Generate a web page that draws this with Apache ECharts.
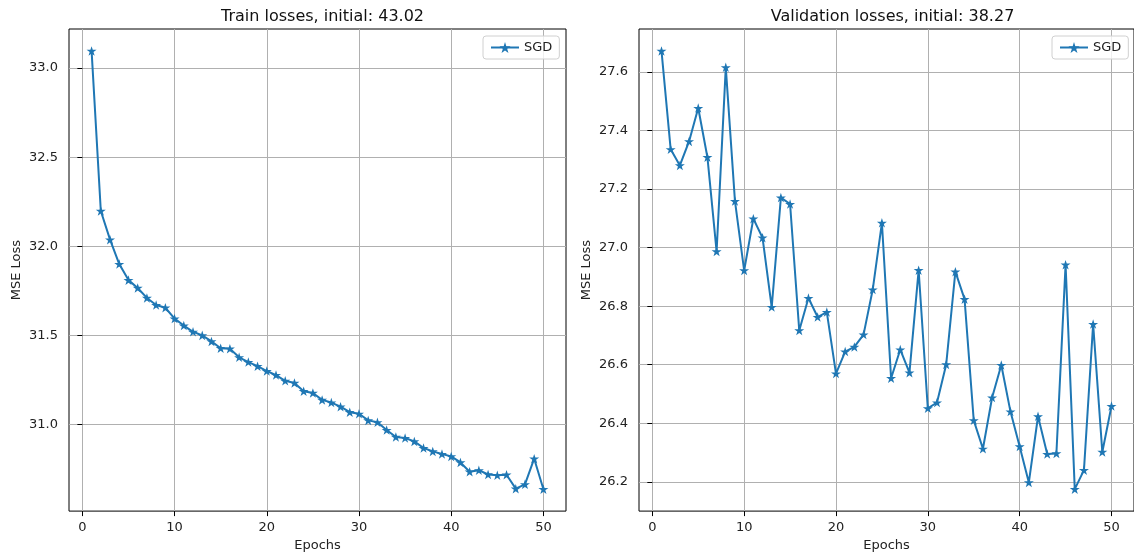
<!DOCTYPE html>
<html>
<head>
<meta charset="utf-8">
<title>Train / Validation losses</title>
<script src="https://cdn.jsdelivr.net/npm/echarts@6/dist/echarts.min.js"></script>
<style>
  html, body { margin: 0; padding: 0; background: #fff; }
  #chart { width: 1134px; height: 557px; }
</style>
</head>
<body>
<div id="chart"></div>
<script>
// data
const epochs = [1, 2, 3, 4, 5, 6, 7, 8, 9, 10, 11, 12, 13, 14, 15, 16, 17, 18, 19, 20,
  21, 22, 23, 24, 25, 26, 27, 28, 29, 30, 31, 32, 33, 34, 35, 36, 37, 38, 39, 40,
  41, 42, 43, 44, 45, 46, 47, 48, 49, 50]

const trainLoss = [33.096, 32.198, 32.037, 31.900, 31.810, 31.766, 31.710, 31.670, 31.655, 31.594,
  31.555, 31.520, 31.500, 31.466, 31.428, 31.425, 31.377, 31.350, 31.327, 31.300,
  31.277, 31.245, 31.233, 31.187, 31.177, 31.138, 31.123, 31.100, 31.069, 31.060,
  31.023, 31.012, 30.969, 30.930, 30.924, 30.905, 30.868, 30.849, 30.834, 30.821,
  30.787, 30.735, 30.743, 30.720, 30.715, 30.718, 30.640, 30.664, 30.808, 30.637]

const valLoss = [27.672, 27.336, 27.281, 27.363, 27.477, 27.309, 26.987, 27.616, 27.159, 26.922,
  27.099, 27.034, 26.797, 27.171, 27.149, 26.717, 26.828, 26.763, 26.780, 26.570,
  26.645, 26.661, 26.703, 26.857, 27.085, 26.554, 26.652, 26.573, 26.923, 26.451,
  26.471, 26.601, 26.918, 26.824, 26.410, 26.313, 26.488, 26.599, 26.440, 26.321,
  26.198, 26.424, 26.295, 26.297, 26.942, 26.175, 26.240, 26.739, 26.302, 26.459]

const xTicks = [0, 10, 20, 30, 40, 50]
const trainTicks = [31.0, 31.5, 32.0, 32.5, 33.0]
const valTicks = [26.2, 26.4, 26.6, 26.8, 27.0, 27.2, 27.4, 27.6]

const titles = ['Train losses, initial: 43.02', 'Validation losses, initial: 38.27']

const FONT = 'DejaVu Sans'
const BLUE = '#1f77b4'
const STAR = 'path://M0,-1L0.2245,-0.309L0.951,-0.309L0.363,0.118L0.588,0.809L0,0.382L-0.588,0.809L-0.363,0.118L-0.951,-0.309L-0.2245,-0.309Z'

// matplotlib-ish axes boxes (pixels); the right one runs just past the canvas edge
const boxes = [
  { left: 69, top: 29, width: 497, height: 486 },
  { left: 639, top: 29, width: 497, height: 486 }
]

const makeXAxis = (gridIndex) => ({
  type: 'value',
  gridIndex,
  min: -1.45,
  max: 52.45,
  name: 'Epochs',
  nameLocation: 'middle',
  nameGap: 26,
  nameTextStyle: { fontFamily: FONT, fontSize: 13, color: '#222' },
  axisLine: { show: false },
  axisTick: { show: true, length: 5, lineStyle: { color: '#000' }, customValues: xTicks },
  axisLabel: {
    margin: 10,
    fontFamily: FONT,
    fontSize: 13,
    color: '#222',
    customValues: xTicks
  },
  splitLine: { show: true, lineStyle: { color: '#b0b0b0', width: 1 } }
})

const makeYAxis = (gridIndex, min, max, ticks) => ({
  type: 'value',
  gridIndex,
  min,
  max,
  name: 'MSE Loss',
  nameLocation: 'middle',
  nameGap: 46,
  nameRotate: 90,
  nameTextStyle: { fontFamily: FONT, fontSize: 13, color: '#222' },
  axisLine: { show: false },
  axisTick: { show: true, length: 5, lineStyle: { color: '#000' }, customValues: ticks },
  axisLabel: {
    margin: 11,
    fontFamily: FONT,
    fontSize: 13,
    color: '#222',
    customValues: ticks,
    formatter: (v) => v.toFixed(1)
  },
  splitLine: { show: true, lineStyle: { color: '#b0b0b0', width: 1 } }
})

const makeSeries = (idx, values) => ({
  name: 'SGD',
  type: 'line',
  xAxisIndex: idx,
  yAxisIndex: idx,
  data: epochs.map((e, i) => [e, values[i]]),
  symbol: STAR,
  symbolSize: 10,
  symbolKeepAspect: true,
  showAllSymbol: true,
  lineStyle: { color: BLUE, width: 2 },
  itemStyle: { color: BLUE },
  emphasis: { disabled: true },
  animation: false
})

const makeLegend = (left) => ({
  left,
  top: 36,
  data: ['SGD'],
  orient: 'horizontal',
  padding: [5, 7],
  itemWidth: 28,
  itemHeight: 14,
  itemGap: 0,
  borderColor: '#d0d0d0',
  borderWidth: 1,
  borderRadius: 3,
  backgroundColor: 'rgba(255,255,255,0.8)',
  selectedMode: false,
  textStyle: { fontFamily: FONT, fontSize: 13, color: '#222' }
})

const buildOption = () => ({
  backgroundColor: '#fff',
  animation: false,
  title: titles.map((text, i) => ({
    text,
    left: boxes[i].left + boxes[i].width / 2,
    top: 4,
    textAlign: 'center',
    textStyle: { fontFamily: FONT, fontSize: 16, fontWeight: 'normal', color: '#111' }
  })),
  legend: [makeLegend(483), makeLegend(1052)],
  grid: boxes.map((b, i) => ({
    ...b,
    // the right spine of the second plot is cut off in the reference
    width: i === 1 ? b.width + 3 : b.width,
    show: true,
    borderColor: '#000',
    borderWidth: 1,
    backgroundColor: 'transparent'
  })),
  xAxis: [makeXAxis(0), makeXAxis(1)],
  yAxis: [
    makeYAxis(0, 30.514, 33.219, trainTicks),
    makeYAxis(1, 26.100, 27.747, valTicks)
  ],
  series: [makeSeries(0, trainLoss), makeSeries(1, valLoss)]
})

const chart = echarts.init(document.getElementById('chart'))
chart.setOption(buildOption())

window.addEventListener('resize', () => chart.resize())
</script>
</body>
</html>
